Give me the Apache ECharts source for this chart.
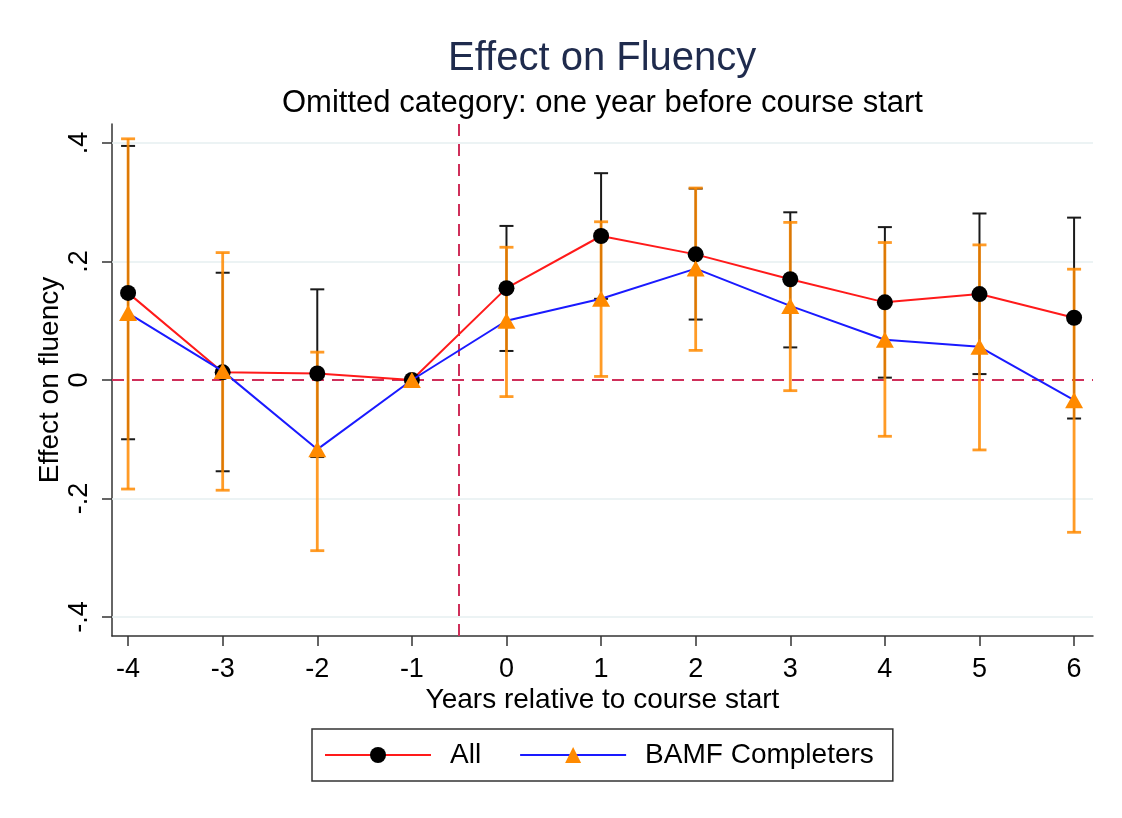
<!DOCTYPE html>
<html>
<head>
<meta charset="utf-8">
<title>Effect on Fluency</title>
<script src="https://cdn.jsdelivr.net/npm/echarts@6/dist/echarts.min.js"></script>
<style>
  html, body { margin: 0; padding: 0; background: #ffffff; }
  #chart { width: 1122px; height: 818px; }
</style>
</head>
<body>
<div id="chart"></div>
<script>
// Event-study estimates: years relative to course start
const years = [-4, -3, -2, -1, 0, 1, 2, 3, 4, 5, 6];

// All participants: point estimate and 95% CI
const allEst = [0.147, 0.013, 0.011, 0, 0.155, 0.243, 0.212, 0.170, 0.131, 0.145, 0.105];
const allLo  = [-0.100, -0.154, -0.130, null, 0.049, 0.137, 0.102, 0.055, 0.004, 0.010, -0.065];
const allHi  = [0.395, 0.181, 0.153, null, 0.260, 0.349, 0.323, 0.283, 0.258, 0.281, 0.274];

// BAMF course completers: point estimate and 95% CI
const bamfEst = [0.113, 0.015, -0.117, 0, 0.100, 0.137, 0.188, 0.125, 0.068, 0.056, -0.034];
const bamfLo  = [-0.184, -0.186, -0.288, null, -0.028, 0.006, 0.050, -0.018, -0.095, -0.118, -0.257];
const bamfHi  = [0.407, 0.215, 0.047, null, 0.224, 0.267, 0.324, 0.266, 0.232, 0.228, 0.187];

// Axis ticks and reference lines
const xTicks = [-4, -3, -2, -1, 0, 1, 2, 3, 4, 5, 6];
const yTicks = [-0.4, -0.2, 0, 0.2, 0.4];
const gridVals = [-0.4, -0.2, 0.2, 0.4];
const eventLine = -0.5;

const FONT = '"Liberation Sans", Arial, sans-serif';

// Plot area (titles are centred over it, not over the whole canvas)
const GRID = { left: 112, right: 29, top: 124, bottom: 182 };
const WIDTH = 1122;
const plotCenter = GRID.left + (WIDTH - GRID.left - GRID.right) / 2;

function pairs(est) {
  return years.map((y, i) => [y, est[i]]);
}
function ciRows(lo, hi) {
  const rows = [];
  years.forEach((y, i) => {
    if (lo[i] !== null && hi[i] !== null) rows.push([y, lo[i], hi[i]]);
  });
  return rows;
}

// Vertical range bar with horizontal caps at both ends
function capRenderer(color, width, capHalf) {
  return function (params, api) {
    const x = api.value(0);
    const lo = api.coord([x, api.value(1)]);
    const hi = api.coord([x, api.value(2)]);
    const style = { stroke: color, lineWidth: width, fill: null };
    return {
      type: 'group',
      children: [
        { type: 'line', shape: { x1: lo[0], y1: lo[1], x2: hi[0], y2: hi[1] }, style },
        { type: 'line', shape: { x1: hi[0] - capHalf, y1: hi[1], x2: hi[0] + capHalf, y2: hi[1] }, style },
        { type: 'line', shape: { x1: lo[0] - capHalf, y1: lo[1], x2: lo[0] + capHalf, y2: lo[1] }, style }
      ]
    };
  };
}

function yLabel(v) {
  if (Math.abs(v) < 1e-9) return '0';
  const s = String(Math.round(v * 10) / 10);
  return s.replace('0.', '.');
}

const chart = echarts.init(document.getElementById('chart'), null, { renderer: 'canvas' });

// Measure a string to centre the titles over the plot area
function textWidth(str, size) {
  return echarts.format.getTextRect
    ? echarts.format.getTextRect(str, size + 'px ' + FONT).width
    : str.length * size * 0.5;
}
const titleText = 'Effect on Fluency';
const subText = 'Omitted category: one year before course start';
const titleSize = 40;
const subSize = 31;

chart.setOption({
  backgroundColor: '#ffffff',
  animation: false,
  title: [
    {
      text: titleText,
      left: Math.round(plotCenter - textWidth(titleText, titleSize) / 2 - 5),
      top: 34,
      textStyle: { fontFamily: FONT, fontSize: titleSize, fontWeight: 'normal', color: '#1f2b4d' }
    },
    {
      text: subText,
      left: Math.round(plotCenter - textWidth(subText, subSize) / 2 - 5),
      top: 83,
      textStyle: { fontFamily: FONT, fontSize: subSize, fontWeight: 'normal', color: '#000000' }
    }
  ],
  legend: {
    left: 312,
    top: 729,
    orient: 'horizontal',
    data: ['All', 'BAMF Completers'],
    itemWidth: 106,
    itemHeight: 20,
    itemGap: 38,
    padding: [12, 19, 12, 12],
    borderColor: '#333333',
    borderWidth: 1.5,
    textStyle: { fontFamily: FONT, fontSize: 28, color: '#000000', padding: [0, 0, 0, 14] }
  },
  grid: { left: GRID.left, right: GRID.right, top: GRID.top, bottom: GRID.bottom, containLabel: false },
  xAxis: {
    type: 'value',
    min: -4.17,
    max: 6.2,
    name: 'Years relative to course start',
    nameLocation: 'middle',
    nameGap: 50,
    nameMoveOverlap: false,
    nameTextStyle: { fontFamily: FONT, fontSize: 28, color: '#000000' },
    axisLine: { show: true, onZero: false, lineStyle: { color: '#333333', width: 1.5 } },
    axisTick: { show: true, customValues: xTicks, length: 10, lineStyle: { color: '#333333', width: 1.5 } },
    axisLabel: { customValues: xTicks, margin: 20, fontFamily: FONT, fontSize: 27, color: '#000000' },
    splitLine: { show: false }
  },
  yAxis: {
    type: 'value',
    min: -0.432,
    max: 0.432,
    name: 'Effect on fluency',
    nameLocation: 'middle',
    nameGap: 48,
    nameMoveOverlap: false,
    nameTextStyle: { fontFamily: FONT, fontSize: 28, color: '#000000' },
    axisLine: { show: true, onZero: false, lineStyle: { color: '#333333', width: 1.5 } },
    axisTick: { show: true, customValues: yTicks, length: 10, lineStyle: { color: '#333333', width: 1.5 } },
    axisLabel: { customValues: yTicks, rotate: 90, margin: 19, formatter: yLabel, fontFamily: FONT, fontSize: 27, color: '#000000' },
    splitLine: { show: false }
  },
  series: [
    {
      name: 'All CI',
      type: 'custom',
      z: 2,
      renderItem: capRenderer('#1a1a1a', 2, 7),
      encode: { x: 0, y: [1, 2] },
      data: ciRows(allLo, allHi),
      markLine: {
        silent: true,
        z: 1,
        symbol: ['none', 'none'],
        label: { show: false },
        data: gridVals.map(v => ({ yAxis: v, lineStyle: { color: '#e6eff1', width: 1.5, type: 'solid' } }))
          .concat([
            { yAxis: 0, lineStyle: { color: '#cf2f5a', width: 2, type: [12, 8] } },
            { xAxis: eventLine, lineStyle: { color: '#cf2f5a', width: 2, type: [12, 8] } }
          ])
      }
    },
    {
      name: 'BAMF CI',
      type: 'custom',
      z: 3,
      renderItem: capRenderer('rgba(255,138,0,0.85)', 2.8, 7),
      encode: { x: 0, y: [1, 2] },
      data: ciRows(bamfLo, bamfHi)
    },
    {
      name: 'All',
      type: 'line',
      z: 4,
      data: pairs(allEst),
      symbol: 'circle',
      symbolSize: 16,
      showAllSymbol: true,
      lineStyle: { color: '#ff1a1a', width: 2 },
      itemStyle: { color: '#000000', borderWidth: 0 }
    },
    {
      name: 'BAMF Completers',
      type: 'line',
      z: 5,
      data: pairs(bamfEst),
      symbol: 'triangle',
      symbolSize: [18, 16],
      showAllSymbol: true,
      lineStyle: { color: '#1a1aff', width: 2 },
      itemStyle: { color: '#ff8a00', borderWidth: 0 }
    }
  ]
});
</script>
</body>
</html>
